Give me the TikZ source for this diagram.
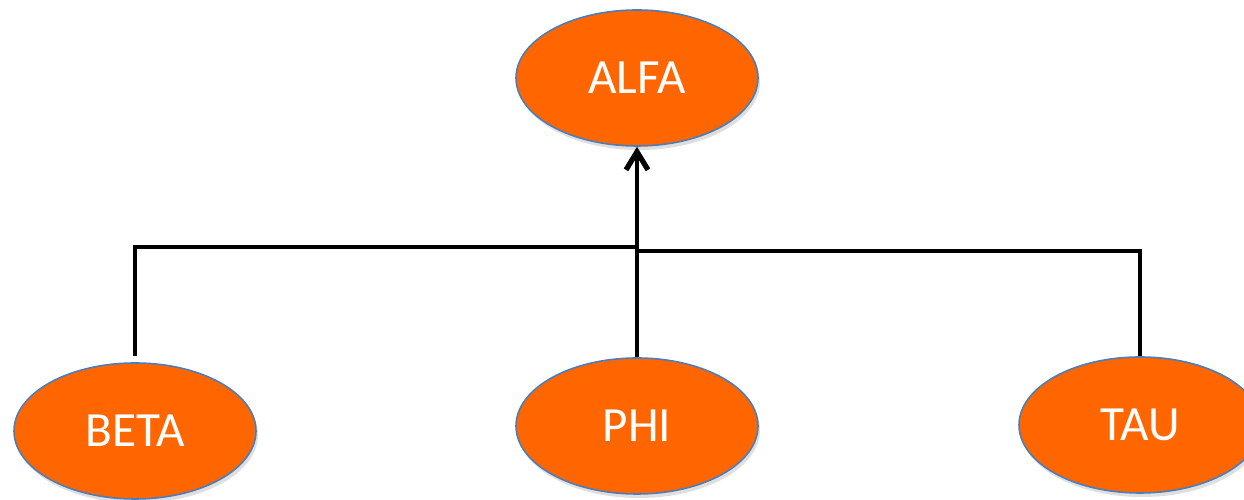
\documentclass[tikz,border=0pt]{standalone}
\usepackage{fontspec}
\setmainfont{Carlito}
\usepackage{xcolor}
\usepackage{tikz}
\usetikzlibrary{shapes,shadows}
\usetikzlibrary{calc}
\usetikzlibrary{arrows.meta}
\definecolor{blobfill}{HTML}{FF6600}
\definecolor{blobedge}{HTML}{4A7EBB}

\begin{document}
\begin{tikzpicture}

		\useasboundingbox (0,0) rectangle (24.88,10);
		\clip (0,0) rectangle (24.88,10);
		\tikzstyle{blob} = [ellipse, minimum width=4.84cm, minimum height=2.72cm, inner sep=0pt, draw=blobedge, line width=0.9pt, fill=blobfill, text=white, font=\fontsize{28}{32}\selectfont, drop shadow={opacity=0.25, shadow xshift=0.04cm, shadow yshift=-0.08cm}]
		\tikzstyle{wire} = [draw=black, line width=2.6pt]
		\node [blob](alfa) at (12.74,8.44) {ALFA};
		\node [blob](beta) at (2.70,1.38) {BETA};
		\node [blob](phi) at (12.74,1.48) {PHI};
		\node [blob](tau) at (22.80,1.50) {TAU};
		\coordinate (jb) at ($(beta.north) + (0,2.30)$);
		\coordinate (jt) at ($(tau.north) + (0,2.10)$);
		\draw [wire] ($(beta.north) + (0,0.12)$) -- (jb) -- (alfa.south |- jb);
		\draw [wire] (tau.north) -- (jt) -- (alfa.south |- jt);
		\draw [wire, -{Straight Barb[length=3.6mm, width=4.4mm, line width=3pt]}] (phi.north) -- (alfa.south);

	\end{tikzpicture}
\end{document}
